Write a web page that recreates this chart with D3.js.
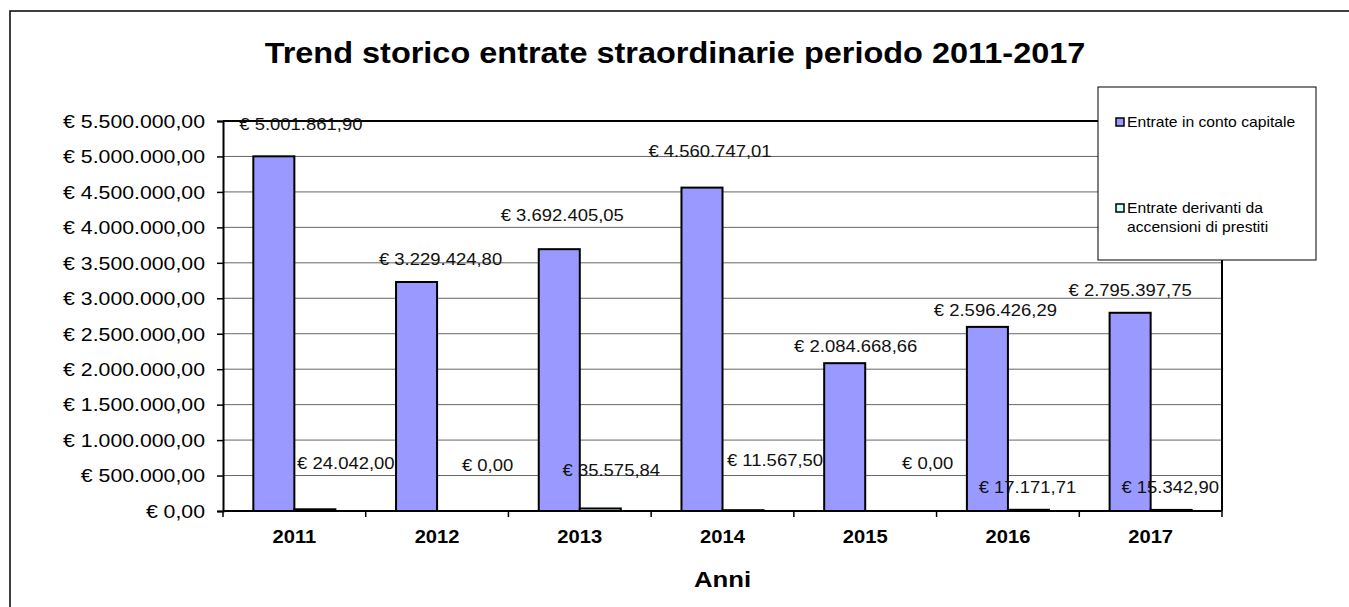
<!DOCTYPE html>
<html><head><meta charset="utf-8">
<script src="https://cdn.jsdelivr.net/npm/d3@7/dist/d3.min.js"></script>
<style>body{margin:0;background:#fff;overflow:hidden} text{font-family:Arial,"Liberation Sans",sans-serif;fill:#000}</style>
</head><body><svg id="c" width="1349" height="607"></svg>
<script>
// ---- data ----
const years = ["2011","2012","2013","2014","2015","2016","2017"];
const seriesNames = ["Entrate in conto capitale","Entrate derivanti da accensioni di prestiti"];
const capitale = [5001861.90, 3229424.80, 3692405.05, 4560747.01, 2084668.66, 2596426.29, 2795397.75];
const prestiti = [24042.00, 0.00, 35575.84, 11567.50, 0.00, 17171.71, 15342.90];
const yTicks = [0,500000,1000000,1500000,2000000,2500000,3000000,3500000,4000000,4500000,5000000,5500000];
const titleText = "Trend storico entrate straordinarie periodo 2011-2017";
const xTitle = "Anni";
// label nudges (manual placement in the original), px
const nudge1 = [[27,-12],[24,-3],[3,-14],[8,-17],[11,3],[8,3],[0,-3]];
const nudge2 = [[31,-26],[30,-26],[11,-18],[32,-30],[42,-28],[-1,-3],[-1,-3]];

const colors = ["#9999FF","#CCFFFF"];
const SX = 1.12;
const svg = d3.select("#c");
const L=223, R=1222, T=121, B=511;

const it = d3.formatLocale({decimal:",", thousands:".", grouping:[3], currency:["€ ",""]});
const fmt = it.format("$,.2f");

const y = d3.scaleLinear().domain([0,5500000]).range([B,T]);
const x0 = d3.scaleBand().domain(years).range([L,R]).paddingInner(0.425).paddingOuter(0.2125);
const x1 = d3.scaleBand().domain([0,1]).range([0,x0.bandwidth()]);
const step = x0.step();

// outer border
svg.append("rect").attr("x",10).attr("y",11).attr("width",1400).attr("height",700)
  .attr("fill","#fff").attr("stroke","#000").attr("stroke-width",1.5);

function stext(g, x, yy, str, size, weight, anchor){
  return g.append("text").attr("transform",`translate(${x},${yy}) scale(${SX},1)`)
    .attr("text-anchor",anchor).style("font-size",size+"px").style("font-weight",weight).text(str);
}

// title
stext(svg, 675, 63, titleText, 29, "bold", "middle");

// gridlines
svg.append("g").selectAll("line").data(yTicks.slice(1,-1)).join("line")
  .attr("x1",L).attr("x2",R).attr("y1",d=>y(d)).attr("y2",d=>y(d))
  .attr("stroke","#666").attr("stroke-width",1);

// plot frame top / right
svg.append("line").attr("x1",L).attr("x2",R).attr("y1",T).attr("y2",T).attr("stroke","#000").attr("stroke-width",2);
svg.append("line").attr("x1",R).attr("x2",R).attr("y1",T).attr("y2",B).attr("stroke","#000").attr("stroke-width",2);

// bars
const data = years.map((yr,i)=>({yr, vals:[capitale[i], prestiti[i]]}));
const grp = svg.append("g").selectAll("g").data(data).join("g")
  .attr("transform",d=>`translate(${x0(d.yr)},0)`);
grp.selectAll("rect").data(d=>d.vals.map((v,k)=>({v,k}))).join("rect")
  .attr("x",d=>x1(d.k)).attr("width",x1.bandwidth())
  .attr("y",d=>y(d.v)).attr("height",d=>B-y(d.v))
  .attr("fill",d=>colors[d.k]).attr("stroke","#000").attr("stroke-width",2);

// axes
const yAxis = d3.axisLeft(y).tickValues(yTicks).tickSize(6).tickFormat("");
const ya = svg.append("g").attr("transform",`translate(${L},0)`).call(yAxis);
ya.select(".domain").attr("stroke","#000").attr("stroke-width",2);
ya.selectAll(".tick line").attr("stroke","#000").attr("stroke-width",1.5);
yTicks.forEach(t=>{
  stext(svg, 205, y(t), fmt(t), 19, "normal", "end").attr("dy","0.36em");
});

svg.append("line").attr("x1",L).attr("x2",R).attr("y1",B).attr("y2",B).attr("stroke","#000").attr("stroke-width",2);
const bounds = d3.range(years.length+1).map(i=>L+i*step);
svg.append("g").selectAll("line").data(bounds).join("line")
  .attr("x1",d=>d).attr("x2",d=>d).attr("y1",B).attr("y2",B+6).attr("stroke","#000").attr("stroke-width",1.5);
years.forEach(yr=>{
  stext(svg, x0(yr)+x0.bandwidth()/2, 543, yr, 18, "bold", "middle");
});
stext(svg, (L+R)/2, 587, xTitle, 23, "bold", "middle");

// data labels
data.forEach((d,i)=>{
  [capitale[i], prestiti[i]].forEach((v,k)=>{
    const n = k===0 ? nudge1[i] : nudge2[i];
    const cx = x0(d.yr)+x1(k)+x1.bandwidth()/2 + n[0];
    const cy = y(v) - 20 + n[1];
    stext(svg, cx, cy, fmt(v), 16.5, "normal", "middle").attr("dy","0.36em").style("fill","#111");
  });
});

// legend
const lg = svg.append("g");
lg.append("rect").attr("x",1098).attr("y",87).attr("width",218).attr("height",173)
  .attr("fill","#fff").attr("stroke","#000").attr("stroke-width",1);
const legItems = [{lines:[seriesNames[0]], y:127},{lines:["Entrate derivanti da","accensioni di prestiti"], y:213}];
legItems.forEach((li,k)=>{
  lg.append("rect").attr("x",1116).attr("y",li.y-9).attr("width",8).attr("height",8)
    .attr("fill",colors[k]).attr("stroke","#000").attr("stroke-width",1.5);
  li.lines.forEach((s,j)=>{
    stext(lg, 1127, li.y + j*19, s, 14, "normal", "start");
  });
});
</script></body></html>
